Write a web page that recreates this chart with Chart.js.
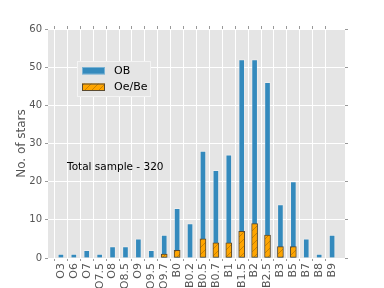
<!DOCTYPE html>
<html><head><meta charset="utf-8">
<script src="https://cdn.jsdelivr.net/npm/chart.js@4/dist/chart.umd.min.js"></script>
<style>html,body{margin:0;padding:0;background:#fff}#wrap{width:384px;height:288px}</style>
</head><body><div id="wrap"><canvas id="c" width="384" height="288"></canvas></div>
<script>
const categories = ['O3','O6','O7','O7.5','O8','O8.5','O9','O9.5','O9.7','B0','B0.2','B0.5','B0.7','B1','B1.5','B2','B2.5','B3','B5','B7','B8','B9'];
const obCounts   = [1,1,2,1,3,3,5,2,6,13,9,28,23,27,52,52,46,14,20,5,1,6];
const oebeCounts = [0,0,0,0,0,0,0,0,1,2,0,5,4,4,7,9,6,3,3,0,0,0];
const yTicks = [0,10,20,30,40,50,60];
const seriesLabels = ['OB','Oe/Be'];
const annotation = 'Total sample - 320';

function hatch(){
  const c=document.createElement('canvas');c.width=c.height=7;
  const g=c.getContext('2d');
  g.fillStyle='#FFA500';g.fillRect(0,0,7,7);
  g.strokeStyle='rgba(110,70,0,0.55)';g.lineWidth=0.7;
  g.beginPath();
  g.moveTo(0,7);g.lineTo(7,0);
  g.moveTo(-2,2);g.lineTo(2,-2);
  g.moveTo(5,9);g.lineTo(9,5);
  g.stroke();
  return g.createPattern(c,'repeat');
}
const hatchFill = hatch();

const xMin = -1, xMax = categories.length;
const hideEdge = (ctx, col) => (ctx.tick && (ctx.tick.value < 0 || ctx.tick.value > categories.length-1)) ? 'rgba(0,0,0,0)' : col;

const bgPlugin = {
  id:'bg',
  beforeDraw(chart){
    const {ctx, chartArea:a} = chart;
    ctx.save();ctx.fillStyle='#E5E5E5';ctx.fillRect(a.left,a.top,a.right-a.left,a.bottom-a.top);ctx.restore();
  },
  afterDraw(chart){
    const {ctx, chartArea:a} = chart;
    ctx.save();
    const lx=a.left+29, ly=a.top+32, lw=74, lh=36;
    ctx.fillStyle='#E5E5E5';ctx.fillRect(lx,ly,lw,lh);
    ctx.strokeStyle='#F4F4F4';ctx.lineWidth=1;ctx.strokeRect(lx+0.5,ly+0.5,lw-1,lh-1);
    const ds = chart.data.datasets;
    ctx.font='11px "DejaVu Sans"';ctx.textBaseline='middle';
    [ds[0], ds[1]].forEach((d,i)=>{
      const sy = ly+6+i*16.5;
      ctx.fillStyle=d.backgroundColor;ctx.fillRect(lx+5,sy,23,7.5);
      ctx.strokeStyle=i===0?'rgba(255,255,255,0.35)':'#5a4a30';ctx.lineWidth=1;
      ctx.strokeRect(lx+5.5,sy+0.5,22,6.5);
      ctx.fillStyle='#000';ctx.fillText(d.label,lx+37,sy+4);
    });
    ctx.font='10.5px "DejaVu Sans"';ctx.fillStyle='#000';ctx.textBaseline='middle';
    ctx.fillText(annotation,a.left+19,167);
    ctx.restore();
  }
};

new Chart(document.getElementById('c'),{
  type:'bar',
  data:{
    datasets:[
      {label:seriesLabels[0], data:obCounts.map((v,i)=>({x:i,y:v})), backgroundColor:'#348ABD',
       borderColor:'rgba(255,255,255,0.3)', borderWidth:1, borderSkipped:'bottom', grouped:false, barThickness:6, order:2},
      {label:seriesLabels[1], data:oebeCounts.map((v,i)=>({x:i,y:v})).filter(p=>p.y>0), backgroundColor:hatchFill,
       borderColor:'#5a4a30', borderWidth:1, borderSkipped:false, grouped:false, barThickness:6, order:1}
    ]
  },
  options:{
    responsive:false, animation:false, devicePixelRatio:1,
    layout:{padding:0},
    plugins:{legend:{display:false}, tooltip:{enabled:false}},
    scales:{
      x:{type:'linear', position:'bottom', min:xMin, max:xMax, offset:false,
         afterFit(s){s.height=30;},
         afterBuildTicks(s){s.ticks=[];for(let v=xMin;v<=xMax;v++)s.ticks.push({value:v});},
         ticks:{autoSkip:false, maxRotation:90, minRotation:90, color:'#555', font:{family:'DejaVu Sans',size:11}, padding:2,
                callback:(v)=> categories[v] !== undefined ? categories[v] : ''},
         grid:{color:(c)=>hideEdge(c,'#FFFFFF'), tickColor:(c)=>hideEdge(c,'#999999'), tickLength:3, lineWidth:1},
         border:{display:false}},
      x2:{type:'linear', position:'top', min:xMin, max:xMax, offset:false,
         afterFit(s){s.height=29;},
         afterBuildTicks(s){s.ticks=[];for(let v=xMin;v<=xMax;v++)s.ticks.push({value:v});},
         ticks:{autoSkip:false, maxRotation:0, callback:()=>'' , font:{size:1}, padding:0},
         grid:{drawOnChartArea:false, color:(c)=>hideEdge(c,'#999999'), tickColor:(c)=>hideEdge(c,'#999999'), tickLength:3},
         border:{display:false}},
      y:{type:'linear', position:'left', min:yTicks[0], max:yTicks[yTicks.length-1],
         afterFit(s){s.width=48;},
         afterBuildTicks(s){s.ticks=yTicks.map(v=>({value:v}));},
         ticks:{color:'#555', font:{family:'DejaVu Sans',size:10}, padding:3},
         grid:{color:'#FFFFFF', tickColor:'#999999', tickLength:3, lineWidth:1},
         border:{display:false},
         title:{display:true, text:'No. of stars', color:'#555', font:{family:'DejaVu Sans',size:12}, padding:{top:15,bottom:0}}},
      y2:{type:'linear', position:'right', min:yTicks[0], max:yTicks[yTicks.length-1],
         afterFit(s){s.width=39;},
         afterBuildTicks(s){s.ticks=yTicks.map(v=>({value:v}));},
         ticks:{callback:()=>'', font:{size:1}, padding:0},
         grid:{drawOnChartArea:false, color:'#999999', tickColor:'#999999', tickLength:3},
         border:{display:false}}
    }
  },
  plugins:[bgPlugin]
});
</script></body></html>
